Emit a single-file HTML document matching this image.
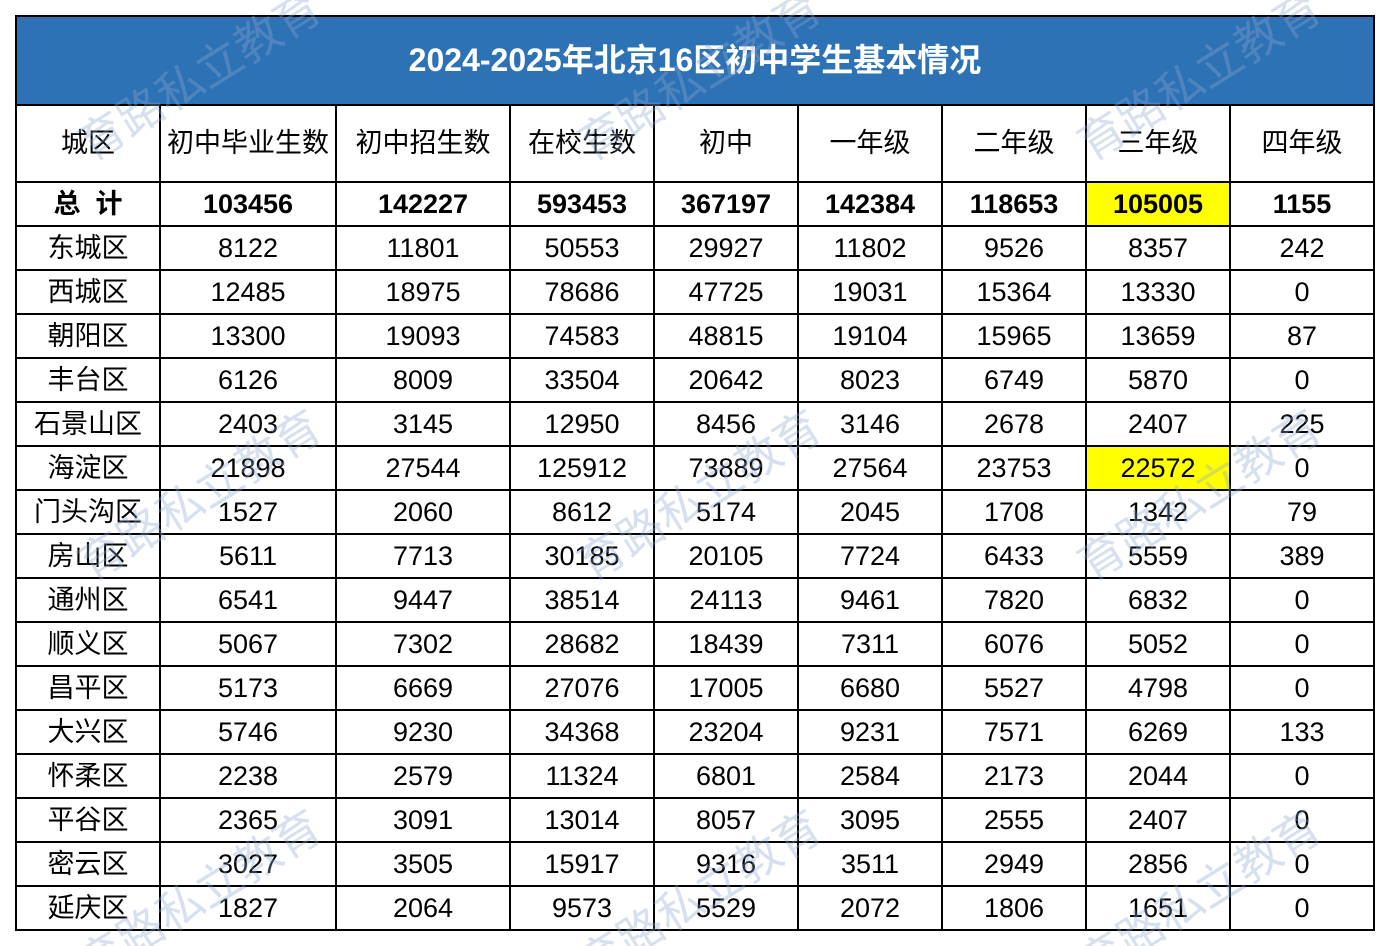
<!DOCTYPE html>
<html><head><meta charset="utf-8"><style>
html,body{margin:0;padding:0;background:#fff;width:1390px;height:946px;overflow:hidden;position:relative}
table{position:absolute;left:15px;top:15px;border-collapse:collapse;table-layout:fixed;font-family:"Liberation Sans","Noto Sans CJK SC",sans-serif;font-size:27px;color:#000}
td{border:2px solid #000;text-align:center;padding:0;height:42px;line-height:42px;white-space:nowrap}
.t td{background:#2e72b6;color:#fff;font-weight:bold;font-size:32px;height:87px;line-height:87px}
.h td{height:75px;line-height:75px}
.b td{font-weight:bold}
.y{background:#ffff00}
.wmc{position:absolute;left:0;top:0;width:1390px;height:946px;overflow:hidden;z-index:5;pointer-events:none}
.wm{position:absolute;font-family:"Noto Sans CJK SC",sans-serif;font-size:46px;color:rgba(140,165,205,0.35);transform:rotate(-32deg);white-space:nowrap}
</style></head><body>
<table>
<colgroup><col style="width:144px"><col style="width:176px"><col style="width:174px"><col style="width:144px"><col style="width:144px"><col style="width:144px"><col style="width:144px"><col style="width:144px"><col style="width:144px"></colgroup>
<tr class="t"><td colspan="9">2024-2025年北京16区初中学生基本情况</td></tr>
<tr class="h"><td>城区</td><td>初中毕业生数</td><td>初中招生数</td><td>在校生数</td><td>初中</td><td>一年级</td><td>二年级</td><td>三年级</td><td>四年级</td></tr>
<tr class="b"><td>总&nbsp;&nbsp;计</td><td>103456</td><td>142227</td><td>593453</td><td>367197</td><td>142384</td><td>118653</td><td class="y">105005</td><td>1155</td></tr>
<tr><td>东城区</td><td>8122</td><td>11801</td><td>50553</td><td>29927</td><td>11802</td><td>9526</td><td>8357</td><td>242</td></tr>
<tr><td>西城区</td><td>12485</td><td>18975</td><td>78686</td><td>47725</td><td>19031</td><td>15364</td><td>13330</td><td>0</td></tr>
<tr><td>朝阳区</td><td>13300</td><td>19093</td><td>74583</td><td>48815</td><td>19104</td><td>15965</td><td>13659</td><td>87</td></tr>
<tr><td>丰台区</td><td>6126</td><td>8009</td><td>33504</td><td>20642</td><td>8023</td><td>6749</td><td>5870</td><td>0</td></tr>
<tr><td>石景山区</td><td>2403</td><td>3145</td><td>12950</td><td>8456</td><td>3146</td><td>2678</td><td>2407</td><td>225</td></tr>
<tr><td>海淀区</td><td>21898</td><td>27544</td><td>125912</td><td>73889</td><td>27564</td><td>23753</td><td class="y">22572</td><td>0</td></tr>
<tr><td>门头沟区</td><td>1527</td><td>2060</td><td>8612</td><td>5174</td><td>2045</td><td>1708</td><td>1342</td><td>79</td></tr>
<tr><td>房山区</td><td>5611</td><td>7713</td><td>30185</td><td>20105</td><td>7724</td><td>6433</td><td>5559</td><td>389</td></tr>
<tr><td>通州区</td><td>6541</td><td>9447</td><td>38514</td><td>24113</td><td>9461</td><td>7820</td><td>6832</td><td>0</td></tr>
<tr><td>顺义区</td><td>5067</td><td>7302</td><td>28682</td><td>18439</td><td>7311</td><td>6076</td><td>5052</td><td>0</td></tr>
<tr><td>昌平区</td><td>5173</td><td>6669</td><td>27076</td><td>17005</td><td>6680</td><td>5527</td><td>4798</td><td>0</td></tr>
<tr><td>大兴区</td><td>5746</td><td>9230</td><td>34368</td><td>23204</td><td>9231</td><td>7571</td><td>6269</td><td>133</td></tr>
<tr><td>怀柔区</td><td>2238</td><td>2579</td><td>11324</td><td>6801</td><td>2584</td><td>2173</td><td>2044</td><td>0</td></tr>
<tr><td>平谷区</td><td>2365</td><td>3091</td><td>13014</td><td>8057</td><td>3095</td><td>2555</td><td>2407</td><td>0</td></tr>
<tr><td>密云区</td><td>3027</td><td>3505</td><td>15917</td><td>9316</td><td>3511</td><td>2949</td><td>2856</td><td>0</td></tr>
<tr><td>延庆区</td><td>1827</td><td>2064</td><td>9573</td><td>5529</td><td>2072</td><td>1806</td><td>1651</td><td>0</td></tr>
</table>
<div class="wmc">
<div class="wm" style="left:60px;top:40px">育路私立教育</div>
<div class="wm" style="left:560px;top:40px">育路私立教育</div>
<div class="wm" style="left:1060px;top:40px">育路私立教育</div>
<div class="wm" style="left:60px;top:460px">育路私立教育</div>
<div class="wm" style="left:560px;top:460px">育路私立教育</div>
<div class="wm" style="left:1060px;top:460px">育路私立教育</div>
<div class="wm" style="left:60px;top:860px">育路私立教育</div>
<div class="wm" style="left:560px;top:860px">育路私立教育</div>
<div class="wm" style="left:1060px;top:860px">育路私立教育</div>
</div>
</body></html>
